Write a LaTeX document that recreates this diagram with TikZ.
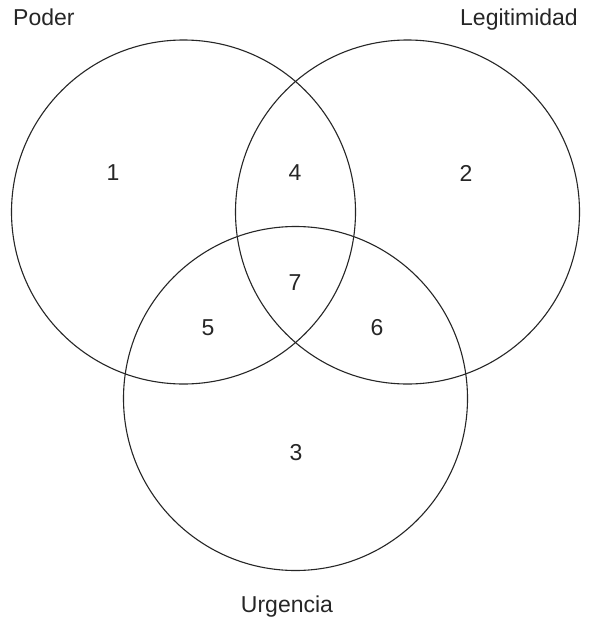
\documentclass[tikz,border=0pt]{standalone}
\usepackage{fontspec}
\setmainfont{Liberation Sans}
\begin{document}
\begin{tikzpicture}[x=1pt,y=-1pt,
  venn/.style={draw=black!85,line width=1.1pt},
  lbl/.style={font=\fontsize{23}{27}\selectfont,text=black!85,inner sep=0pt},
  num/.style={font=\fontsize{23}{27}\selectfont,text=black!85,inner sep=0pt}]
\useasboundingbox (0,0) rectangle (591,618);
\fill[white] (0,0) rectangle (591,618);
\node[venn,circle,minimum size=344pt,inner sep=0pt] (P) at (183.5,212) {};
\node[venn,circle,minimum size=344pt,inner sep=0pt] (L) at (407.5,212) {};
\node[venn,circle,minimum size=344pt,inner sep=0pt] (U) at (295.5,398.5) {};
\node[lbl,anchor=base west] (tP) at (13,26) {Poder};
\node[lbl,anchor=base east] (tL) at (578,26) {Legitimidad};
\node[lbl,anchor=base] (tU) at (287,612) {Urgencia};
\node[num] (n1) at (113,173) {1};
\node[num] (n4) at (295,173) {4};
\node[num] (n2) at (466,173) {2};
\node[num] (n7) at (295,283) {7};
\node[num] (n5) at (208,328) {5};
\node[num] (n6) at (377,328) {6};
\node[num] (n3) at (296,453) {3};
\end{tikzpicture}
\end{document}
